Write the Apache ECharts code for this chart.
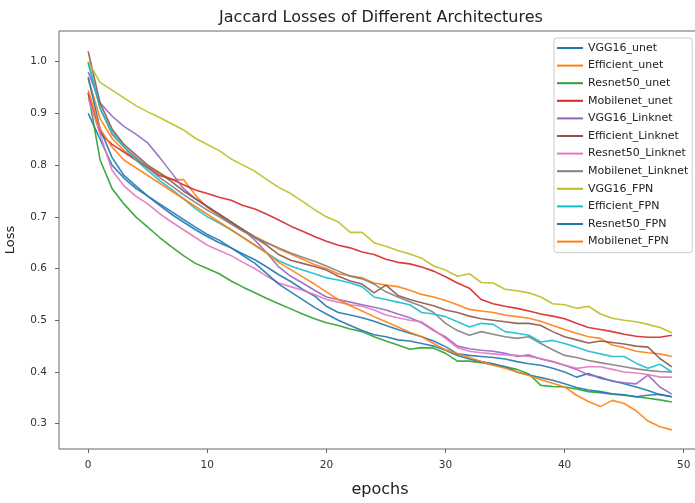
<!DOCTYPE html>
<html>
<head>
<meta charset="utf-8">
<script src="https://cdn.jsdelivr.net/npm/echarts@6/dist/echarts.min.js"></script>
<style>
html,body{margin:0;padding:0;background:#fff;}
#chart{width:695px;height:503px;}
</style>
</head>
<body>
<div id="chart"></div>
<script>
const epochs = [0,1,2,3,4,5,6,7,8,9,10,11,12,13,14,15,16,17,18,19,20,21,22,23,24,25,26,27,28,29,30,31,32,33,34,35,36,37,38,39,40,41,42,43,44,45,46,47,48,49];
const xTicks = [0,10,20,30,40,50];
const yTicks = [0.3,0.4,0.5,0.6,0.7,0.8,0.9,1.0];
const seriesNames = ['VGG16_unet','Efficient_unet','Resnet50_unet','Mobilenet_unet','VGG16_Linknet','Efficient_Linknet','Resnet50_Linknet','Mobilenet_Linknet','VGG16_FPN','Efficient_FPN','Resnet50_FPN','Mobilenet_FPN'];

const VGG16_unet = [0.900,0.850,0.800,0.775,0.755,0.740,0.722,0.705,0.690,0.675,
 0.662,0.650,0.640,0.628,0.617,0.603,0.588,0.575,0.560,0.547,
 0.527,0.515,0.510,0.505,0.498,0.490,0.482,0.475,0.468,0.460,
 0.449,0.435,0.432,0.430,0.428,0.425,0.420,0.416,0.413,0.407,
 0.400,0.390,0.397,0.388,0.383,0.377,0.371,0.364,0.356,0.352];
const Efficient_unet = [0.968,0.890,0.852,0.828,0.812,0.797,0.785,0.772,0.772,0.742,
 0.718,0.703,0.688,0.675,0.662,0.650,0.638,0.628,0.618,0.608,
 0.600,0.590,0.586,0.582,0.572,0.568,0.565,0.558,0.550,0.545,
 0.538,0.530,0.521,0.518,0.515,0.510,0.507,0.504,0.498,0.490,
 0.482,0.475,0.468,0.465,0.452,0.447,0.440,0.437,0.435,0.430];
const Resnet50_unet = [0.940,0.810,0.755,0.725,0.700,0.680,0.660,0.642,0.625,0.610,
 0.600,0.590,0.576,0.564,0.553,0.542,0.532,0.522,0.512,0.503,
 0.495,0.490,0.483,0.478,0.468,0.460,0.452,0.444,0.447,0.446,
 0.436,0.421,0.421,0.418,0.414,0.410,0.405,0.396,0.374,0.372,
 0.371,0.367,0.362,0.360,0.357,0.355,0.352,0.349,0.346,0.342];
const Mobilenet_unet = [0.940,0.862,0.840,0.825,0.810,0.795,0.780,0.773,0.762,0.752,
 0.745,0.738,0.732,0.722,0.715,0.705,0.694,0.682,0.672,0.662,
 0.653,0.645,0.640,0.632,0.627,0.618,0.612,0.609,0.603,0.595,
 0.584,0.572,0.562,0.540,0.532,0.527,0.523,0.518,0.512,0.508,
 0.503,0.494,0.486,0.482,0.478,0.473,0.469,0.467,0.467,0.471];
const VGG16_Linknet = [0.980,0.920,0.895,0.875,0.860,0.843,0.815,0.785,0.755,0.735,
 0.720,0.705,0.690,0.675,0.655,0.630,0.603,0.585,0.572,0.558,
 0.545,0.540,0.535,0.530,0.525,0.520,0.512,0.505,0.495,0.480,
 0.468,0.450,0.445,0.442,0.440,0.436,0.430,0.433,0.425,0.420,
 0.413,0.405,0.394,0.390,0.382,0.379,0.377,0.394,0.371,0.357];
const Efficient_Linknet = [1.020,0.920,0.870,0.840,0.820,0.800,0.785,0.768,0.750,0.735,
 0.720,0.705,0.690,0.675,0.660,0.645,0.627,0.616,0.610,0.604,
 0.597,0.585,0.576,0.570,0.553,0.568,0.548,0.540,0.534,0.528,
 0.520,0.515,0.508,0.503,0.500,0.497,0.494,0.494,0.490,0.478,
 0.468,0.462,0.456,0.460,0.457,0.454,0.450,0.448,0.426,0.410];
const Resnet50_Linknet = [0.930,0.860,0.790,0.760,0.740,0.725,0.706,0.690,0.675,0.660,
 0.645,0.635,0.625,0.612,0.600,0.585,0.572,0.565,0.558,0.550,
 0.540,0.535,0.530,0.527,0.520,0.510,0.505,0.500,0.497,0.482,
 0.465,0.447,0.440,0.437,0.435,0.433,0.432,0.430,0.426,0.420,
 0.413,0.407,0.410,0.410,0.405,0.400,0.398,0.395,0.390,0.390];
const Mobilenet_Linknet = [1.000,0.910,0.860,0.835,0.815,0.795,0.776,0.760,0.743,0.728,
 0.713,0.700,0.686,0.672,0.660,0.650,0.640,0.630,0.622,0.614,
 0.605,0.595,0.585,0.580,0.570,0.555,0.545,0.536,0.527,0.515,
 0.494,0.480,0.471,0.478,0.473,0.468,0.465,0.468,0.455,0.443,
 0.432,0.428,0.422,0.418,0.414,0.410,0.406,0.403,0.401,0.400];
const VGG16_FPN = [1.000,0.960,0.945,0.930,0.915,0.903,0.892,0.880,0.868,0.852,
 0.840,0.828,0.812,0.800,0.788,0.772,0.757,0.745,0.730,0.714,
 0.700,0.690,0.670,0.670,0.650,0.643,0.635,0.628,0.620,0.605,
 0.597,0.585,0.590,0.573,0.572,0.560,0.557,0.553,0.545,0.532,
 0.530,0.523,0.527,0.512,0.504,0.500,0.497,0.492,0.486,0.476];
const Efficient_FPN = [0.997,0.910,0.865,0.835,0.810,0.790,0.770,0.753,0.735,0.716,
 0.700,0.688,0.675,0.660,0.645,0.630,0.615,0.605,0.597,0.590,
 0.582,0.578,0.572,0.565,0.545,0.540,0.535,0.530,0.515,0.512,
 0.507,0.497,0.487,0.494,0.492,0.478,0.475,0.471,0.458,0.461,
 0.455,0.448,0.440,0.435,0.430,0.430,0.417,0.407,0.415,0.400];
const Resnet50_FPN = [0.970,0.870,0.815,0.780,0.760,0.740,0.725,0.710,0.695,0.680,
 0.666,0.655,0.640,0.625,0.610,0.590,0.570,0.555,0.540,0.525,
 0.512,0.500,0.490,0.480,0.472,0.468,0.462,0.460,0.455,0.450,
 0.442,0.432,0.425,0.420,0.416,0.410,0.400,0.394,0.389,0.384,
 0.377,0.370,0.365,0.362,0.358,0.356,0.352,0.355,0.357,0.352];
const Mobilenet_FPN = [0.945,0.870,0.835,0.810,0.795,0.780,0.765,0.750,0.735,0.720,
 0.705,0.690,0.675,0.660,0.645,0.630,0.612,0.598,0.584,0.570,
 0.555,0.540,0.528,0.518,0.507,0.497,0.487,0.477,0.468,0.455,
 0.443,0.435,0.428,0.420,0.413,0.407,0.400,0.393,0.385,0.378,
 0.371,0.355,0.343,0.333,0.345,0.339,0.325,0.305,0.294,0.288];

const seriesValues = [VGG16_unet, Efficient_unet, Resnet50_unet, Mobilenet_unet, VGG16_Linknet, Efficient_Linknet, Resnet50_Linknet, Mobilenet_Linknet, VGG16_FPN, Efficient_FPN, Resnet50_FPN, Mobilenet_FPN];
const colors = ['#1f77b4','#ff7f0e','#2ca02c','#d62728','#9467bd','#8c564b','#e377c2','#7f7f7f','#bcbd22','#17becf','#1f77b4','#ff7f0e'];

const FONT = 'DejaVu Sans';
const chart = echarts.init(document.getElementById('chart'), null, {renderer: 'canvas'});
chart.setOption({
  animation: false,
  backgroundColor: '#ffffff',
  color: colors,
  title: {
    text: 'Jaccard Losses of Different Architectures',
    left: 376, top: 5, textAlign: 'center',
    textStyle: {fontFamily: FONT, fontSize: 16, fontWeight: 'normal', color: '#222'}
  },
  legend: {
    orient: 'vertical',
    left: 554, top: 38,
    padding: [3, 4, 4, 3],
    icon: 'rect',
    itemWidth: 26, itemHeight: 2, itemGap: 3.6,
    backgroundColor: '#ffffff',
    borderColor: '#cccccc', borderWidth: 1, borderRadius: 3,
    textStyle: {fontFamily: FONT, fontSize: 11, color: '#222', lineHeight: 14},
    data: seriesNames
  },
  grid: {left: 59, top: 31, width: 642, height: 418, show: true, borderColor: '#666', borderWidth: 1,
    backgroundColor: 'transparent', containLabel: false, outerBoundsMode: 'none'},
  xAxis: {
    type: 'value', min: -2.45, max: 51.45,
    name: 'epochs', nameLocation: 'middle', nameGap: 33,
    nameTextStyle: {fontFamily: FONT, fontSize: 16, color: '#222'},
    axisLine: {show: false, onZero: false},
    axisTick: {show: true, length: 4, lineStyle: {color: '#666'}, customValues: xTicks},
    axisLabel: {fontFamily: FONT, fontSize: 10.5, color: '#333', margin: 11, customValues: xTicks},
    splitLine: {show: false}
  },
  yAxis: {
    type: 'value', min: 0.251, max: 1.0594,
    name: 'Loss', nameLocation: 'middle', nameGap: 42, nameRotate: 90,
    nameTextStyle: {fontFamily: FONT, fontSize: 13, color: '#222'},
    axisLine: {show: false, onZero: false},
    axisTick: {show: true, length: 4, lineStyle: {color: '#666'}, customValues: yTicks},
    axisLabel: {fontFamily: FONT, fontSize: 10.5, color: '#333', margin: 12, customValues: yTicks,
      formatter: v => v.toFixed(1)},
    splitLine: {show: false}
  },
  series: seriesNames.map((name, i) => ({
    name: name,
    type: 'line',
    symbol: 'none',
    data: epochs.map((e, j) => [e, seriesValues[i][j]]),
    lineStyle: {width: 1.6, color: colors[i], opacity: 0.9},
    itemStyle: {color: colors[i]},
    emphasis: {disabled: true}
  }))
});
</script>
</body>
</html>
